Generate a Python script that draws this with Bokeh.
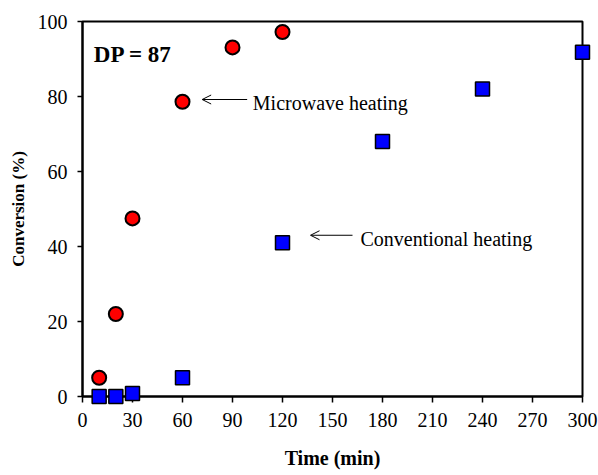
from bokeh.plotting import figure
from bokeh.models import Range1d, FixedTicker, Arrow, OpenHead, Label
from bokeh.embed import file_html
from bokeh.resources import INLINE

# Data
mw_time = [10, 20, 30, 60, 90, 120]
mw_conv = [5.0, 22.0, 47.5, 78.6, 93.1, 97.2]
conv_time = [10, 20, 30, 60, 120, 180, 240, 300]
conv_conv = [0.0, 0.0, 0.8, 5.0, 41.0, 68.0, 82.0, 91.8]
x_ticks = [0, 30, 60, 90, 120, 150, 180, 210, 240, 270, 300]
y_ticks = [0, 20, 40, 60, 80, 100]

FONT = "Liberation Serif"

p = figure(width=598, height=475, output_backend="svg", toolbar_location=None,
           x_range=Range1d(0, 300), y_range=Range1d(0, 100),
           min_border_left=82, min_border_right=16, min_border_top=21, min_border_bottom=79)
p.xgrid.visible = False
p.ygrid.visible = False
p.outline_line_color = "black"
p.outline_line_width = 2
p.background_fill_color = "white"
p.border_fill_color = "white"

for ax in (p.xaxis[0], p.yaxis[0]):
    ax.axis_line_color = "black"
    ax.axis_line_width = 2
    ax.major_tick_line_color = "black"
    ax.major_tick_line_width = 1.5
    ax.major_tick_in = 0
    ax.minor_tick_line_color = None
    ax.major_label_text_font = FONT
    ax.major_label_text_font_size = "20px"
    ax.major_label_text_color = "black"
    ax.axis_label_text_font = FONT
    ax.axis_label_text_font_style = "bold"
    ax.axis_label_text_color = "black"
    ax.major_label_standoff = 10

p.xaxis[0].ticker = FixedTicker(ticks=x_ticks)
p.yaxis[0].ticker = FixedTicker(ticks=y_ticks)
p.xaxis[0].major_tick_out = 6
p.yaxis[0].major_tick_out = 5
p.xaxis[0].axis_label = "Time (min)"
p.xaxis[0].axis_label_text_font_size = "20px"
p.xaxis[0].axis_label_standoff = 17
p.yaxis[0].axis_label = "Conversion (%)"
p.yaxis[0].axis_label_text_font_size = "17px"
p.yaxis[0].axis_label_standoff = 7

r1 = p.scatter(mw_time, mw_conv, marker="circle", size=14, fill_color="#ff0000",
               line_color="black", line_width=2)
r2 = p.scatter(conv_time, conv_conv, marker="square", size=14, fill_color="#0000ff",
               line_color="black", line_width=1.5)
r1.level = "overlay"
r2.level = "overlay"

p.add_layout(Arrow(end=OpenHead(size=9, line_width=1, line_color="black"),
                   x_start=98.8, y_start=79.2, x_end=71.8, y_end=79.2,
                   line_width=1, line_color="black"))
p.add_layout(Arrow(end=OpenHead(size=9, line_width=1, line_color="black"),
                   x_start=162, y_start=43, x_end=136.8, y_end=43,
                   line_width=1, line_color="black"))

p.add_layout(Label(x=102.2, y=78.3, text="Microwave heating", text_font=FONT,
                   text_font_size="20px", text_baseline="alphabetic", text_color="black"))
p.add_layout(Label(x=166.8, y=41.9, text="Conventional heating", text_font=FONT,
                   text_font_size="20px", text_baseline="alphabetic", text_color="black"))
p.add_layout(Label(x=6.8, y=91.2, text="DP = 87", text_font=FONT, text_font_style="bold",
                   text_font_size="23px", text_baseline="alphabetic", text_color="black"))

open("out.html", "w").write(file_html(p, INLINE))
